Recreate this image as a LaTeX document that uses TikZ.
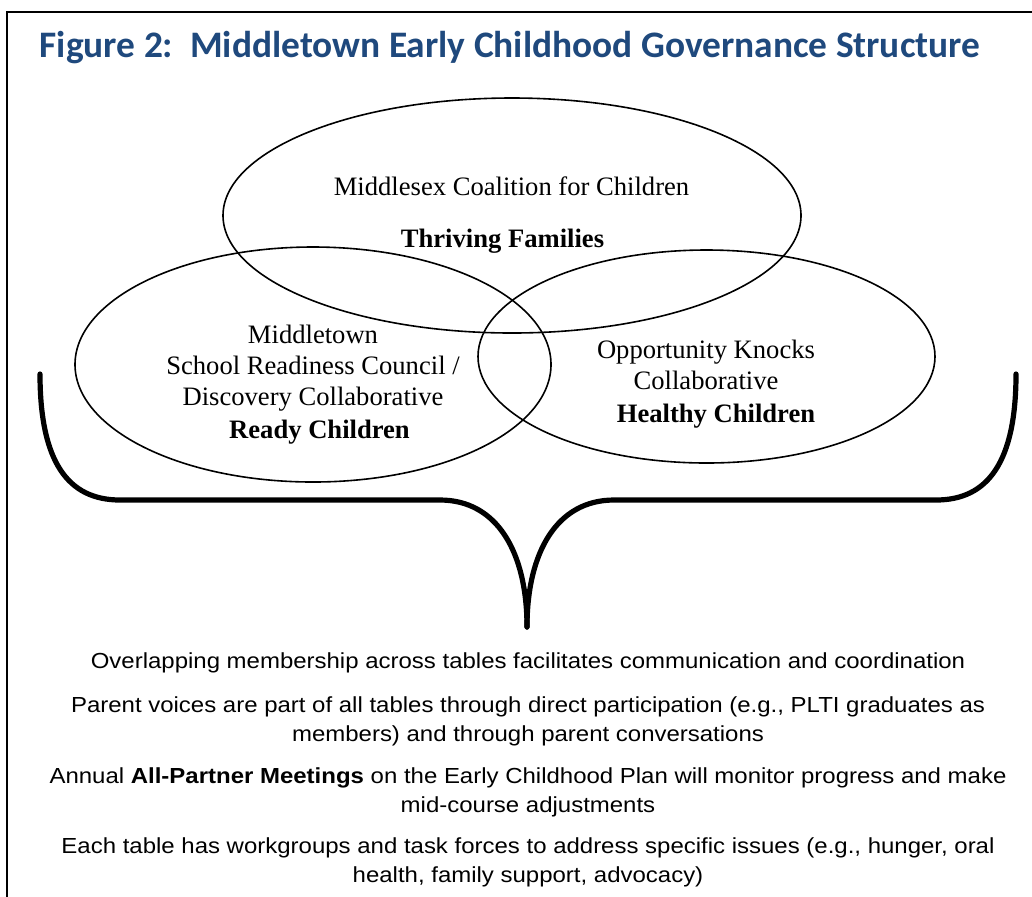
\documentclass[tikz,border=0pt]{standalone}
\usepackage{fontspec}
\setmainfont{Liberation Serif}
\newfontfamily\headfont{Carlito}
\newfontfamily\notefont{Liberation Sans}[FakeStretch=1.1]
\definecolor{headblue}{RGB}{31,73,125}
\begin{document}
\begin{tikzpicture}[
            x=0.5pt, y=-0.5pt,
            table/.style = {draw=black, line width=0.8pt},
            tablename/.style = {font=\fontsize{13.3}{15.4}\selectfont, align=center, inner sep=0pt, anchor=base},
            tablegoal/.style = {font=\fontsize{13.3}{15.4}\selectfont\bfseries, inner sep=0pt, anchor=base},
            note/.style = {font=\notefont\fontsize{10.9}{14.5}\selectfont, align=center, inner sep=0pt, anchor=base},
            brace/.style = {line width=2.6pt, line cap=round}
        ]
            \useasboundingbox (0,0) rectangle (1032,896);
            \begin{scope}
                \clip (0,0) rectangle (1032,896);
                \draw[line width=1pt] (7,12) rectangle (1060,930);
            \end{scope}

            \node[font=\headfont\bfseries\fontsize{18.7}{22}\selectfont, text=headblue, anchor=base, inner sep=0pt] (title) at (510,57)
                {Figure 2:\ \ Middletown Early Childhood Governance Structure};

            \draw[table] (512,215.5) ellipse [x radius=289, y radius=117.5];
            \draw[table] (313,364.5) ellipse [x radius=238, y radius=117.5];
            \draw[table] (706.5,356.5) ellipse [x radius=228.5, y radius=106.5];

            % multi-line nodes sit on the baseline of their last line
            \node[tablename] (coalition) at (511.5,195) {Middlesex Coalition for Children};
            \node[tablegoal] (thriving) at (502.5,247) {Thriving Families};

            \node[tablename] (council) at (313,405)
                {Middletown\\School Readiness Council /\\Discovery Collaborative};
            \node[tablegoal] (ready) at (319.5,438) {Ready Children};

            \node[tablename] (knocks) at (706,389) {Opportunity Knocks\\Collaborative};
            \node[tablegoal] (healthy) at (716,422) {Healthy Children};

            \coordinate (tip) at (527,627);
            \draw[brace] (40,374) .. controls (40,462) and (68,500) .. (120,500)
                -- (440,500) .. controls (497,500) and (527,552) .. (tip);
            \draw[brace] (1016,374) .. controls (1016,462) and (988,500) .. (936,500)
                -- (614,500) .. controls (557,500) and (527,552) .. (tip);

            \node[note] (overlap) at (528,668)
                {Overlapping membership across tables facilitates communication and coordination};
            \node[note] (parents) at (528,741)
                {Parent voices are part of all tables through direct participation (e.g., PLTI graduates as\\members) and through parent conversations};
            \node[note] (meetings) at (528,812)
                {Annual \textbf{All-Partner Meetings} on the Early Childhood Plan will monitor progress and make\\mid-course adjustments};
            \node[note] (workgroups) at (528,882)
                {Each table has workgroups and task forces to address specific issues (e.g., hunger, oral\\health, family support, advocacy)};
        \end{tikzpicture}
\end{document}
